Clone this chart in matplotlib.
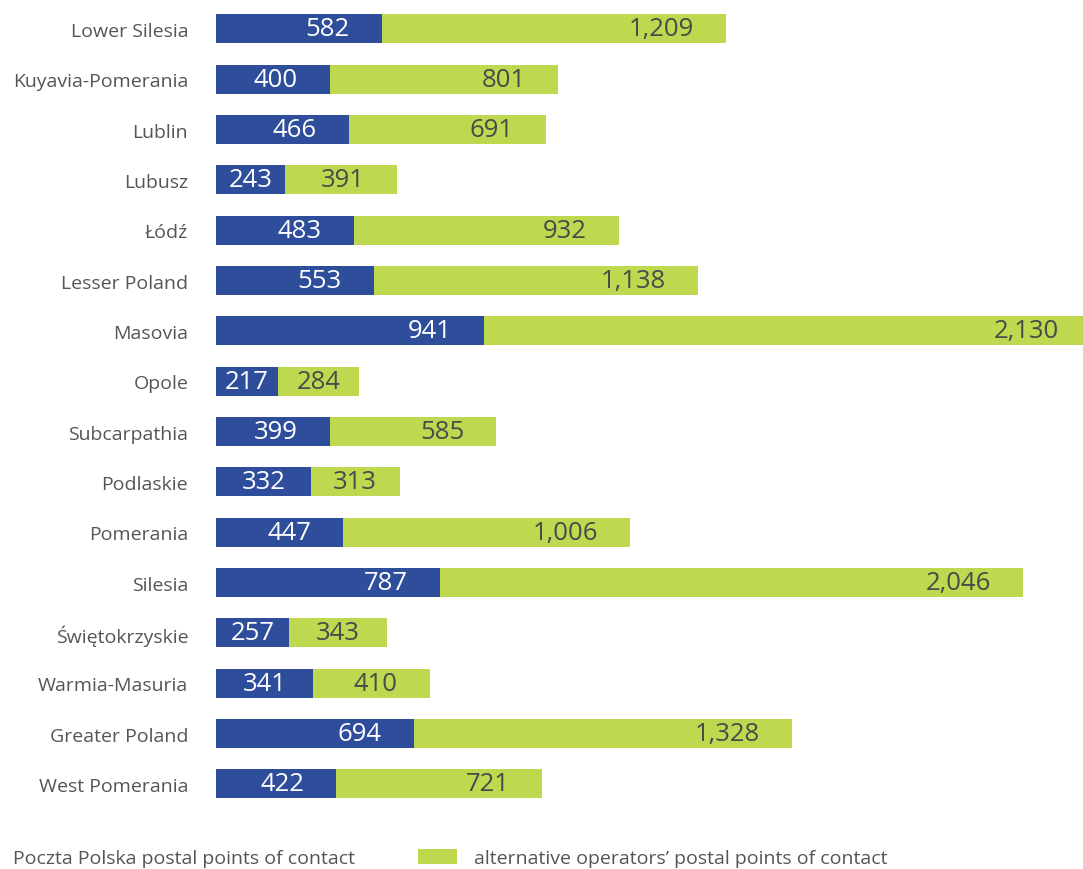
import numpy as np
import matplotlib
matplotlib.use("Agg")
import matplotlib.pyplot as plt
from matplotlib.patches import Patch

regions = ["Lower Silesia", "Kuyavia-Pomerania", "Lublin", "Lubusz", "Łódź",
           "Lesser Poland", "Masovia", "Opole", "Subcarpathia", "Podlaskie",
           "Pomerania", "Silesia", "Świętokrzyskie", "Warmia-Masuria",
           "Greater Poland", "West Pomerania"]
poczta = [582, 400, 466, 243, 483, 553, 941, 217, 399, 332, 447, 787, 257, 341, 694, 422]
alternative = [1209, 801, 691, 391, 932, 1138, 2130, 284, 585, 313, 1006, 2046, 343, 410, 1328, 721]

blue = "#2E4D9B"
green = "#BED84F"
plt.rcParams['font.family'] = ['Open Sans', 'DejaVu Sans']

fig = plt.figure(figsize=(10.83, 8.70), dpi=100)
ax = fig.add_axes([216 / 1083, 60 / 870, 1 - 216 / 1083, 805.3 / 870])

y = np.arange(len(regions))
poczta = np.array(poczta)
alternative = np.array(alternative)

ax.barh(y, poczta, height=0.58, color=blue)
ax.barh(y, alternative, left=poczta, height=0.58, color=green)
ax.set_xlim(0, 3044)   # Masovia runs off the right edge
ax.set_ylim(len(regions) - 0.5, -0.5)

ax.set_yticks(y)
ax.set_yticklabels(regions, fontsize=14, color="#555555")
ax.tick_params(axis="y", length=0, pad=20)
ax.set_xticks([])
for s in ax.spines.values():
    s.set_visible(False)

# value labels: right-aligned 32 px inside the segment end,
# centred instead when the segment is too short
renderer = fig.canvas.get_renderer()
px_per_unit = ax.transData.transform((1, 0))[0] - ax.transData.transform((0, 0))[0]

def add_label(start, width, row, color):
    t = ax.text(0, row, f"{width:,}", color=color, ha="center", va="center", fontsize=18.5)
    w_px = t.get_window_extent(renderer).width
    end_px = (start + width) * px_per_unit
    centre_px = (start + width / 2) * px_per_unit
    right_px = max(end_px - 32, centre_px + w_px / 2)
    t.set_x((right_px - w_px / 2) / px_per_unit)

for i in range(len(regions)):
    add_label(0, poczta[i], i, "white")
    add_label(poczta[i], alternative[i], i, "#4A4A4A")

handles = [Patch(facecolor="none", edgecolor="none"), Patch(facecolor=green)]
fig.legend(handles, ["Poczta Polska postal points of contact",
                     "alternative operators’ postal points of contact"],
           loc="center left", bbox_to_anchor=(-42 / 1083, 1 - 859 / 870),
           ncol=2, frameon=False, fontsize=14, labelcolor="#555555",
           handlelength=1.96, handleheight=0.82, handletextpad=0.88,
           columnspacing=3.25, borderpad=0, borderaxespad=0)

fig.savefig("out.png", dpi=100)
